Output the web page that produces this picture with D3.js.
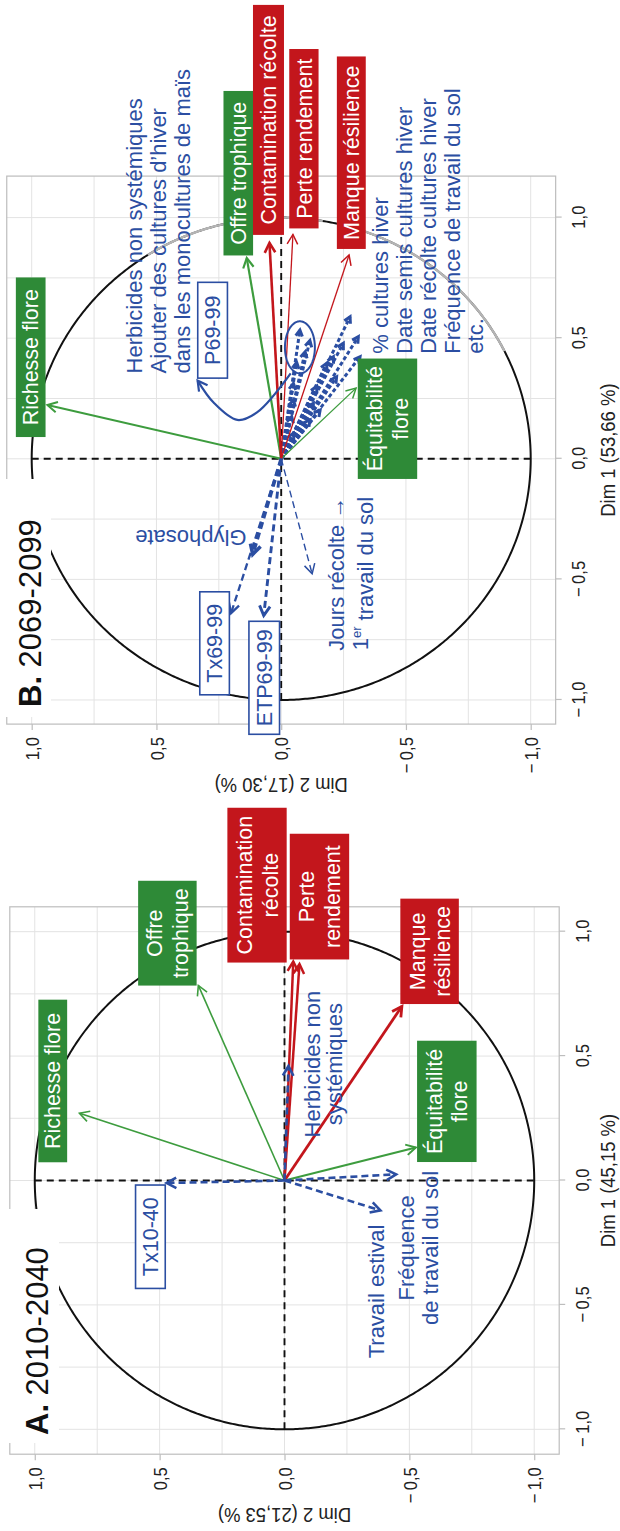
<!DOCTYPE html>
<html><head><meta charset="utf-8">
<script src="https://cdnjs.cloudflare.com/ajax/libs/d3/7.8.5/d3.min.js"></script>
<style>
html,body{margin:0;padding:0;background:#fff;}
svg{display:block;}
text{font-family:"Liberation Sans",Arial,Helvetica,sans-serif;}
</style></head><body>
<svg id="chart" width="620" height="1531" viewBox="0 0 620 1531"></svg>
<script>
// ================= DATA =================
const tickValues = [-1, -0.5, 0, 0.5, 1];
const tickLabels = ["\u2212\u20091,0", "\u2212\u20090,5", "0,0", "0,5", "1,0"];
const gridValues = [-1, -0.75, -0.5, -0.25, 0, 0.25, 0.5, 0.75, 1];

// ---- Panel A : 2010-2040 ----
const aTitle = "2010-2040";
const aDim1Title = "Dim 1 (45,15 %)";
const aDim2Title = "Dim 2 (21,53 %)";
const aVariables = ["Richesse flore", "Offre trophique", "Équitabilité flore", "Contamination récolte", "Perte rendement", "Manque résilience", "Tx10-40", "Herbicides non systémiques", "Fréquence de travail du sol", "Travail estival"];
const aDim1 = [0.27, 0.784, 0.133, 0.88, 0.87, 0.70, -0.01, 0.46, 0.025, -0.12];
const aDim2 = [0.821, 0.345, -0.526, -0.035, -0.06, -0.47, 0.472, -0.016, -0.447, -0.384];
const aGroups = ["flore", "flore", "flore", "culture", "culture", "culture", "climat", "pratique", "pratique", "pratique"];

// ---- Panel B : 2069-2099 ----
const bTitle = "2069-2099";
const bDim1Title = "Dim 1 (53,66 %)";
const bDim2Title = "Dim 2 (17,30 %)";
const bVariables = ["Richesse flore", "Offre trophique", "Équitabilité flore", "Contamination récolte", "Perte rendement", "Manque résilience", "Glyphosate", "Tx69-99", "ETP69-99", "Jours récolte → 1er travail du sol"];
const bDim1 = [0.223, 0.832, 0.293, 0.895, 0.930, 0.845, -0.396, -0.64, -0.65, -0.477];
const bDim2 = [0.937, 0.138, -0.300, 0.047, -0.047, -0.272, 0.114, 0.201, 0.07, -0.124];
const bGroups = ["flore", "flore", "flore", "culture", "culture", "culture", "pratique", "climat", "climat", "pratique"];
// other practice variables (cluster, "etc.")
const bOtherDim1 = [0.534, 0.49, 0.444, 0.40, 0.313, 0.244, 0.175, 0.106, 0.30, 0.23, 0.161, 0.396, 0.34, 0.479, 0.589, 0.506, 0.423, 0.423, 0.202];
const bOtherDim2 = [-0.075, -0.115, -0.096, -0.062, -0.049, -0.049, -0.042, -0.049, -0.142, -0.129, -0.115, -0.182, -0.222, -0.249, -0.276, -0.309, -0.316, -0.209, -0.156];
// P69-99 annotation curve and ellipse (data units)
const bCurveDim1 = [0.354, 0.192, 0.161, 0.233, 0.324];
const bCurveDim2 = [-0.038, 0.097, 0.176, 0.271, 0.335];
const bEllipseCenter = [0.462, -0.075];
const bEllipseRadius = [0.108, 0.06];

// ================= STYLES / LAYOUT =================
const C = {gBox: "#2e8a37", gLine: "#3d9c3e", red: "#c3161c", blue: "#2b4ea2",
           grid: "#e3e3e3", frame: "#bdbdbd", ink: "#222"};
const groupColor = {flore: C.gLine, culture: C.red, climat: C.blue, pratique: C.blue};
const aWidths = [1.6, 1.6, 2.0, 2.5, 2.5, 2.8, 2.6, 2.6, 2.6, 2.6];
const bWidths = [2.0, 2.2, 1.3, 2.6, 1.3, 1.3, 3.6, 2.3, 2.9, 1.4];

const aBoxes = [
  {t: ["Richesse flore"], d1: 0.400, d2: 0.928, w: 162.6, h: 28.8, k: "green"},
  {t: ["Offre", "trophique"], d1: 0.994, d2: 0.469, w: 104.8, h: 58.5, k: "green"},
  {t: ["Contamination", "récolte"], d1: 1.187, d2: 0.110, w: 154.8, h: 59.3, k: "red"},
  {t: ["Perte", "rendement"], d1: 1.141, d2: -0.140, w: 125.7, h: 59.4, k: "red"},
  {t: ["Manque", "résilience"], d1: 0.921, d2: -0.581, w: 105.4, h: 58.5, k: "red"},
  {t: ["Équitabilité", "flore"], d1: 0.318, d2: -0.650, w: 121.3, h: 59.5, k: "green"},
  {t: ["Tx10-40"], d1: -0.226, d2: 0.537, w: 103.4, h: 29.7, k: "blue"}
];
const aTexts = [
  {t: ["Herbicides non", "systémiques"], d1: 0.468, d2: -0.112, lh: 21.6, a: "middle"},
  {t: ["Travail estival"], d1: -0.446, d2: -0.365, lh: 24, a: "middle"},
  {t: ["Fréquence", "de travail du sol"], d1: -0.271, d2: -0.486, lh: 24.5, a: "middle"}
];
const bBoxes = [
  {t: ["Richesse flore"], d1: 0.421, d2: 1.004, w: 159.6, h: 29.7, k: "green"},
  {t: ["Offre trophique"], d1: 1.184, d2: 0.172, w: 164.5, h: 29.6, k: "green"},
  {t: ["Contamination récolte"], d1: 1.405, d2: 0.051, w: 230, h: 31, k: "red"},
  {t: ["Perte rendement"], d1: 1.327, d2: -0.091, w: 179.4, h: 29.3, k: "red"},
  {t: ["Manque résilience"], d1: 1.269, d2: -0.281, w: 192.5, h: 28.9, k: "red"},
  {t: ["Équitabilité", "flore"], d1: 0.166, d2: -0.426, w: 120.4, h: 59.4, k: "green"},
  {t: ["P69-99"], d1: 0.533, d2: 0.275, w: 95.8, h: 29.7, k: "blue"},
  {t: ["Tx69-99"], d1: -0.765, d2: 0.267, w: 103, h: 29.6, k: "blue"},
  {t: ["ETP69-99"], d1: -0.908, d2: 0.068, w: 113, h: 30.6, k: "blue"}
];
const bTexts = [
  {t: ["Herbicides non systémiques", "Ajouter des cultures d\u2019hiver", "dans les monocultures de maïs"], d1: 0.354, d2: 0.588, lh: 23.7, a: "start"},
  {t: ["% cultures hiver", "Date semis cultures hiver", "Date récolte cultures hiver", "Fréquence de travail du sol", "etc."], d1: 0.436, d2: -0.398, lh: 23.7, a: "start"},
  {t: ["Jours récolte \u2192", "SUP"], d1: -0.476, d2: -0.220, lh: 23.8, a: "middle"},
  {t: ["Glyphosate"], d1: -0.328, d2: 0.362, lh: 24, a: "middle", rot: -90}
];

const svg = d3.select("#chart");

function headPath(x1, y1, x2, y2, len, ang) {
  const a = Math.atan2(y2 - y1, x2 - x1);
  const p1 = [x2 - len * Math.cos(a - ang), y2 - len * Math.sin(a - ang)];
  const p2 = [x2 - len * Math.cos(a + ang), y2 - len * Math.sin(a + ang)];
  return `M${p1[0]},${p1[1]}L${x2},${y2}L${p2[0]},${p2[1]}`;
}

function drawPanel(P) {
  const g = svg.append("g").attr("transform", `translate(0,${P.ty}) rotate(-90)`);
  const x = d3.scaleLinear().domain(P.d1Dom).range(P.uRange);
  const y = d3.scaleLinear().domain(P.d2Dom).range(P.vRange);
  const [u0, u1] = P.uRange, [v0, v1] = P.vRange;

  // grid
  const gg = g.append("g").attr("stroke", C.grid).attr("stroke-width", 1);
  gg.selectAll("line.gx").data(gridValues.filter(d => x(d) >= u0 && x(d) <= u1)).join("line").attr("class", "gx")
    .attr("x1", d => x(d)).attr("x2", d => x(d)).attr("y1", v0).attr("y2", v1);
  gg.selectAll("line.gy").data(gridValues).join("line").attr("class", "gy")
    .attr("x1", u0).attr("x2", u1).attr("y1", d => y(d)).attr("y2", d => y(d));
  g.append("rect").attr("x", u0).attr("y", v0).attr("width", u1 - u0).attr("height", v1 - v0)
    .attr("fill", "none").attr("stroke", C.frame).attr("stroke-width", 1.2);

  // axes
  const fmt = (d, i) => tickLabels[i];
  const ax = g.append("g").attr("transform", `translate(0,${v1})`)
    .call(d3.axisBottom(x).tickValues(tickValues).tickFormat(fmt).tickSize(6).tickPadding(P.bottomPad));
  ax.attr("font-size", null).attr("font-family", null);
  ax.select(".domain").remove();
  ax.selectAll("line").attr("stroke", C.frame).attr("stroke-width", 1.2);
  ax.selectAll("text").attr("font-size", 18.5).attr("fill", C.ink).attr("transform", "scale(0.9,1)");

  const ay = g.append("g").attr("transform", `translate(${u0},0)`)
    .call(d3.axisLeft(y).tickValues(tickValues).tickFormat(fmt).tickSize(6).tickPadding(7));
  ay.attr("font-size", null).attr("font-family", null);
  ay.select(".domain").remove();
  ay.selectAll("line").attr("stroke", C.frame).attr("stroke-width", 1.2);
  ay.selectAll("text").attr("font-size", 18.5).attr("fill", C.ink)
    .attr("x", -13 / 0.9).attr("dy", "0.36em").attr("transform", "scale(0.9,1)");

  // axis titles
  g.append("text").attr("transform", `translate(${(u0 + u1) / 2},615) scale(0.9,1)`)
    .attr("text-anchor", "middle").attr("font-size", 20.5).attr("fill", C.ink).text(P.dim1Title);
  g.append("text").attr("transform", `translate(${u0 - 54},${(v0 + v1) / 2}) rotate(-90) scale(0.9,1)`)
    .attr("text-anchor", "middle").attr("font-size", 20.5).attr("fill", C.ink).text(P.dim2Title);

  // correlation circle
  const circ = d3.line().x(a => x(Math.cos(a))).y(a => y(Math.sin(a)));
  const rad = d => d * Math.PI / 180;
  g.append("path").attr("d", circ(d3.range(0, 360.5, 0.5).map(rad)))
    .attr("fill", "none").attr("stroke", "#111").attr("stroke-width", 2);
  (P.grayArcs || []).forEach(([a0, a1]) => {
    g.append("path").attr("d", circ(d3.range(a0, a1 - 0.01, -0.5).concat([a1]).map(rad)))
      .attr("fill", "none").attr("stroke", "#b4b4b4").attr("stroke-width", 2.4);
  });

  // dashed axes
  const dl = g.append("g").attr("stroke", "#111").attr("stroke-width", 1.9).attr("stroke-dasharray", "7,5");
  dl.append("line").attr("x1", x(-1)).attr("x2", x(1)).attr("y1", y(0)).attr("y2", y(0));
  dl.append("line").attr("x1", x(0)).attr("x2", x(0)).attr("y1", y(1)).attr("y2", y(-1));

  // title with white background
  g.append("rect").attr("x", P.titleBg[0]).attr("y", 0).attr("width", P.titleBg[1] - P.titleBg[0])
    .attr("height", P.titleBg[2]).attr("fill", "#fff");
  const tt = g.append("text").attr("x", P.titlePos[0]).attr("y", P.titlePos[1])
    .attr("font-size", 31).attr("fill", "#111");
  tt.append("tspan").attr("font-weight", "bold").text(P.letter + ".");
  tt.append("tspan").text(" " + P.title);

  return {g, x, y};
}

function drawArrows(g, x, y, d1s, d2s, groups, widths, opts) {
  d1s.forEach((d1, i) => {
    const grp = groups ? groups[i] : "pratique";
    const col = groupColor[grp];
    const dashed = grp === "pratique" || grp === "climat";
    const w = widths ? widths[i] : opts.width;
    const x0 = x(0), y0 = y(0), x1 = x(d1), y1 = y(d2s[i]);
    const ln = g.append("line").attr("x1", x0).attr("y1", y0).attr("x2", x1).attr("y2", y1)
      .attr("stroke", col).attr("stroke-width", w).attr("stroke-linecap", "butt");
    if (dashed) ln.attr("stroke-dasharray", opts.dash || "7,4");
    g.append("path").attr("d", headPath(x0, y0, x1, y1, opts.head || 11, 0.5))
      .attr("fill", "none").attr("stroke", col).attr("stroke-width", Math.max(w, 1.5))
      .attr("stroke-linejoin", "miter");
  });
}

function drawBoxes(g, x, y, boxes, lh) {
  boxes.forEach(b => {
    const cu = x(b.d1), cv = y(b.d2);
    const fill = b.k === "green" ? C.gBox : b.k === "red" ? C.red : "#fff";
    const tcol = b.k === "blue" ? C.blue : "#fff";
    g.append("rect").attr("x", cu - b.w / 2).attr("y", cv - b.h / 2).attr("width", b.w).attr("height", b.h)
      .attr("fill", fill).attr("stroke", b.k === "blue" ? C.blue : "none").attr("stroke-width", 1.6);
    b.t.forEach((s, j) => {
      g.append("text").attr("x", cu).attr("y", cv + (j - (b.t.length - 1) / 2) * lh)
        .attr("dy", "0.36em").attr("text-anchor", "middle").attr("font-size", 21.5)
        .attr("fill", tcol).text(s);
    });
  });
}

function drawTexts(g, x, y, texts) {
  texts.forEach(T => {
    const u = x(T.d1), v = y(T.d2);
    if (T.rot) {
      g.append("text").attr("transform", `translate(${u},${v}) rotate(${T.rot})`).attr("dy", "0.36em")
        .attr("text-anchor", T.a).attr("font-size", 22).attr("fill", C.blue).text(T.t[0]);
      return;
    }
    T.t.forEach((s, j) => {
      const t = g.append("text").attr("x", u).attr("y", v + j * T.lh).attr("dy", "0.36em")
        .attr("text-anchor", T.a).attr("font-size", 22).attr("fill", C.blue);
      if (s === "SUP") {
        t.append("tspan").text("1");
        t.append("tspan").attr("font-size", 13).attr("dy", "-0.55em").text("er");
        t.append("tspan").attr("dy", "0.55em").text(" travail du sol");
      } else t.text(s);
    });
  });
}

// ---------- Panel B (top) ----------
const PB = drawPanel({ty: 770, d1Dom: [-1.1, 1.172], uRange: [45.9, 593.9], d2Dom: [1.1, -1.1], vRange: [6.75, 555.65],
  bottomPad: 10.5, dim1Title: bDim1Title, dim2Title: bDim2Title, letter: "B", title: bTitle,
  titleBg: [53, 291, 51], titlePos: [63, 41], grayArcs: [[32.3, -9.6], [-12.9, -63.5]]});
{
  const {g, x, y} = PB;
  // cluster of other practices
  drawArrows(g, x, y, bOtherDim1, bOtherDim2, null, null, {width: 3, dash: "4,2.5", head: 7});
  drawArrows(g, x, y, bDim1, bDim2, bGroups, bWidths, {dash: "7,4", head: 11});
  // P69-99 annotation
  const pts = bCurveDim1.map((d, i) => [x(d), y(bCurveDim2[i])]);
  g.append("path").attr("d", d3.line().curve(d3.curveCatmullRom)(pts)).attr("fill", "none")
    .attr("stroke", C.blue).attr("stroke-width", 2.2);
  const n = pts.length;
  g.append("path").attr("d", headPath(pts[n - 2][0], pts[n - 2][1], pts[n - 1][0], pts[n - 1][1], 11, 0.5))
    .attr("fill", "none").attr("stroke", C.blue).attr("stroke-width", 2.2);
  const el = d3.line().x(a => x(bEllipseCenter[0] + bEllipseRadius[0] * Math.cos(a)))
    .y(a => y(bEllipseCenter[1] + bEllipseRadius[1] * Math.sin(a)));
  g.append("path").attr("d", el(d3.range(0, 2 * Math.PI + 0.05, 0.05))).attr("fill", "none")
    .attr("stroke", C.blue).attr("stroke-width", 2);
  drawBoxes(g, x, y, bBoxes, 25.6);
  drawTexts(g, x, y, bTexts);
}

// ---------- Panel A (bottom) ----------
const PA = drawPanel({ty: 1531, d1Dom: [-1.1, 1.1], uRange: [76.8, 624.2], d2Dom: [1.1, -1.1], vRange: [9.8, 559.2],
  bottomPad: 10.5, dim1Title: aDim1Title, dim2Title: aDim2Title, letter: "A", title: aTitle,
  titleBg: [88, 322, 59], titlePos: [96, 47.5]});
{
  const {g, x, y} = PA;
  drawArrows(g, x, y, aDim1, aDim2, aGroups, aWidths, {dash: "7,4", head: 11});
  drawBoxes(g, x, y, aBoxes, 25.6);
  drawTexts(g, x, y, aTexts);
}
</script>
</body></html>
